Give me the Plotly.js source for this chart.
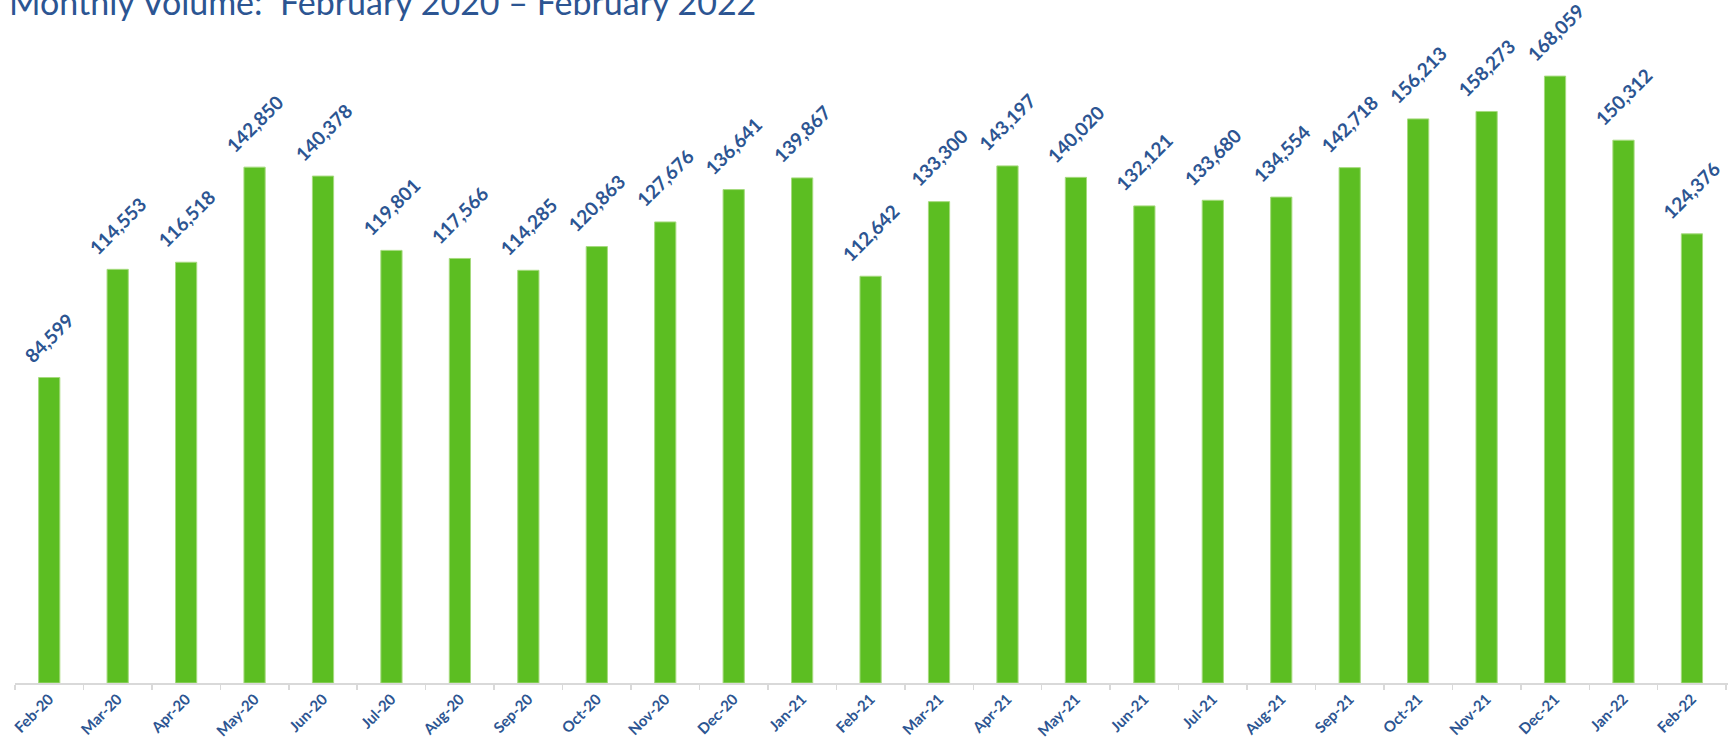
<!DOCTYPE html>
<html>
<head>
<meta charset="utf-8">
<script src="https://cdn.plot.ly/plotly-3.0.1.min.js"></script>
<style>
html, body { margin: 0; padding: 0; background: #ffffff; }
#chart { width: 1731px; height: 740px; }
</style>
</head>
<body>
<div id="chart"></div>
<script>
const months = ["Feb-20","Mar-20","Apr-20","May-20","Jun-20","Jul-20","Aug-20","Sep-20","Oct-20","Nov-20","Dec-20","Jan-21","Feb-21","Mar-21","Apr-21","May-21","Jun-21","Jul-21","Aug-21","Sep-21","Oct-21","Nov-21","Dec-21","Jan-22","Feb-22"];
const volumes = [84599,114553,116518,142850,140378,119801,117566,114285,120863,127676,136641,139867,112642,133300,143197,140020,132121,133680,134554,142718,156213,158273,168059,150312,124376];
const chartTitle = "Monthly Volume:  February 2020 \u2013 February 2022";

const blue = "#2C5592";
const fontFam = "Lato, 'Open Sans', sans-serif";
const labels = volumes.map(v => v.toLocaleString("en-US"));

const trace = {
  type: "bar",
  x: months,
  y: volumes,
  cliponaxis: false,
  marker: { color: "#5CBE22", line: { color: "#A6DA7E", width: 1 } },
  hoverinfo: "none"
};

const annotations = months.map((m, i) => ({
  x: m,
  y: volumes[i],
  xref: "x",
  yref: "y",
  text: "<b>" + labels[i] + "</b>",
  showarrow: false,
  textangle: -45,
  xanchor: "center",
  yanchor: "bottom",
  yshift: 8,
  font: { family: fontFam, size: 19, color: blue, weight: 700 }
}));

const layout = {
  width: 1731,
  height: 740,
  margin: { l: 15, r: 3, t: 33, b: 57 },
  paper_bgcolor: "#ffffff",
  plot_bgcolor: "#ffffff",
  bargap: 0.69,
  showlegend: false,
  annotations: annotations,
  title: {
    text: chartTitle,
    font: { family: fontFam, size: 34, color: blue },
    xref: "container", x: 9 / 1731, xanchor: "left",
    yref: "container", y: 0.9958, yanchor: "middle"
  },
  xaxis: {
    type: "category",
    tickson: "boundaries",
    ticks: "outside",
    ticklen: 5,
    tickwidth: 1.5,
    tickcolor: "#D9D9D9",
    showline: true,
    linecolor: "#D9D9D9",
    linewidth: 1.5,
    showgrid: false,
    tickangle: -45,
    tickfont: { family: fontFam, size: 15, color: blue, weight: 700 }
  },
  yaxis: {
    range: [0, 180000],
    visible: false,
    showgrid: false,
    zeroline: false
  }
};

Plotly.newPlot("chart", [trace], layout, { displayModeBar: false, staticPlot: true });
</script>
</body>
</html>
